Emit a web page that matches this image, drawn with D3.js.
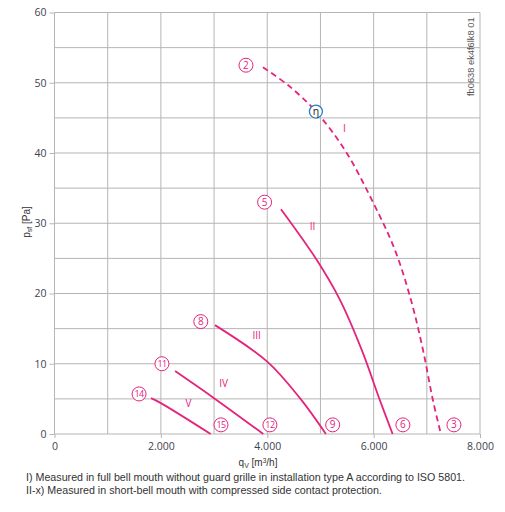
<!DOCTYPE html>
<html><head><meta charset="utf-8">
<script src="https://cdn.jsdelivr.net/npm/d3@7"></script>
<style>body{margin:0;background:#fff}svg{display:block}</style>
</head><body>
<svg id="c" width="505" height="512"></svg>
<script>
// ---- data ----
const xTicks = [0, 2000, 4000, 6000, 8000];
const xTickLabels = ["0", "2.000", "4.000", "6.000", "8.000"];
const yTicks = [0, 10, 20, 30, 40, 50, 60];
const curveNames = ["I", "II", "III", "IV", "V"];
const curveI_q = [3919, 4400, 4915, 5461, 5968, 6400, 6701, 6927, 7115, 7265];
const curveI_p = [52.2, 49.6, 45.9, 40.4, 33.3, 26.2, 19.1, 12.0, 4.8, 0];
const curveII_q = [4258, 4929, 5367, 5780, 6118, 6357];
const curveII_p = [32.0, 24.8, 19.1, 11.9, 4.8, 0];
const curveIII_q = [3017, 4000, 4614, 5103];
const curveIII_p = [15.5, 10.3, 5.1, 0];
const curveIV_q = [2267, 3000, 3925];
const curveIV_p = [8.96, 5.1, 0];
const curveV_q = [1814, 2000, 2936];
const curveV_p = [5.1, 4.4, 0];
// operating point labels: [number, q, p]
const startLabels = [["2", 3600, 52.5], ["5", 3950, 33.0], ["8", 2750, 16.0], ["11", 2020, 10.0], ["14", 1590, 5.7]];
const endLabels = [["15", 3130, 1.3], ["12", 4050, 1.3], ["9", 5230, 1.3], ["6", 6550, 1.3], ["3", 7510, 1.3]];
const etaPoint = [4915, 45.9];
const romanPos = [["I", 5450, 43.0], ["II", 4850, 29.0], ["III", 3800, 13.5], ["IV", 3180, 6.7], ["V", 2520, 3.8]];

const svg = d3.select("#c");
const x = d3.scaleLinear().domain([0, 8000]).range([54.5, 480]);
const y = d3.scaleLinear().domain([0, 60]).range([434, 12.5]);
const pink = "#e4237d";
const grid = "#b5b5b5";
const fontT = "'Open Sans', 'DejaVu Sans', sans-serif";

// grid
const g = svg.append("g");
g.selectAll(".vx").data(d3.range(0, 8001, 1000)).join("line")
  .attr("x1", d => x(d)).attr("x2", d => x(d)).attr("y1", y(0)).attr("y2", y(60))
  .attr("stroke", grid).attr("stroke-width", 1);
g.selectAll(".hy").data(d3.range(0, 61, 5)).join("line")
  .attr("x1", x(0)).attr("x2", x(8000)).attr("y1", d => y(d)).attr("y2", d => y(d))
  .attr("stroke", grid).attr("stroke-width", 1);

// axes
const xAxis = d3.axisBottom(x).tickValues(xTicks).tickFormat((d, i) => xTickLabels[i]).tickSize(4).tickPadding(5);
const yAxis = d3.axisLeft(y).tickValues(yTicks).tickSize(5).tickPadding(3);
const gx = svg.append("g").attr("transform", `translate(0,${y(0)})`).call(xAxis);
const gy = svg.append("g").attr("transform", `translate(${x(0)},0)`).call(yAxis);
[gx, gy].forEach(a => {
  a.select(".domain").remove();
  a.selectAll(".tick line").attr("stroke", grid);
  a.selectAll("text").attr("fill", "#3d4450").attr("font-size", 10.5).attr("font-family", fontT);
});

// curves
const line = d3.line().x(d => x(d[0])).y(d => y(d[1])).curve(d3.curveCatmullRom.alpha(0.5));
const series = [
  [curveI_q, curveI_p, true], [curveII_q, curveII_p, false], [curveIII_q, curveIII_p, false],
  [curveIV_q, curveIV_p, false], [curveV_q, curveV_p, false]
];
series.forEach(([qs, ps, dashed]) => {
  svg.append("path").datum(qs.map((q, i) => [q, ps[i]]))
    .attr("d", line).attr("fill", "none").attr("stroke", pink).attr("stroke-width", 1.8)
    .attr("stroke-dasharray", dashed ? "6,4" : null);
});

// roman labels
svg.selectAll(".rom").data(romanPos).join("text")
  .attr("x", d => x(d[1])).attr("y", d => y(d[2])).attr("text-anchor", "middle")
  .attr("fill", pink).attr("font-size", 10).attr("font-family", fontT).text(d => d[0]);

// circled numbers
const allLabels = startLabels.concat(endLabels);
const cl = svg.selectAll(".cl").data(allLabels).join("g")
  .attr("transform", d => `translate(${x(d[1])},${y(d[2])})`);
cl.append("circle").attr("r", 7).attr("fill", "#fff").attr("stroke", pink).attr("stroke-width", 1);
cl.append("text").attr("text-anchor", "middle").attr("dy", "0.36em").attr("fill", pink)
  .attr("font-size", d => d[0].length > 1 ? 9 : 10).attr("font-family", fontT)
  .attr("letter-spacing", d => d[0].length > 1 ? -0.6 : 0).text(d => d[0]);

// eta point
const eg = svg.append("g").attr("transform", `translate(${x(etaPoint[0])},${y(etaPoint[1])})`);
eg.append("circle").attr("r", 6.5).attr("fill", "#fff").attr("stroke", "#2a7cc4").attr("stroke-width", 1.3);
eg.append("text").attr("text-anchor", "middle").attr("dy", "0.3em").attr("fill", "#222")
  .attr("font-size", 10.5).attr("font-family", fontT).text("η");

// axis titles
const yl = svg.append("text").attr("transform", `translate(30,222) rotate(-90)`)
  .attr("text-anchor", "middle").attr("fill", "#333").attr("font-size", 10).attr("font-family", "'Liberation Sans', Arial, sans-serif");
yl.append("tspan").text("p");
yl.append("tspan").attr("font-size", 7).attr("dy", 2).text("sf");
yl.append("tspan").attr("dy", -2).text(" [Pa]");

const xl = svg.append("text").attr("x", 258).attr("y", 466)
  .attr("text-anchor", "middle").attr("fill", "#333").attr("font-size", 10).attr("font-family", "'Liberation Sans', Arial, sans-serif");
xl.append("tspan").text("q");
xl.append("tspan").attr("font-size", 7).attr("dy", 2).text("V");
xl.append("tspan").attr("dy", -2).text(" [m");
xl.append("tspan").attr("font-size", 6.5).attr("dy", -3).text("3");
xl.append("tspan").attr("dy", 3).text("/h]");

// document id
svg.append("text").attr("transform", "translate(474,96) rotate(-90)")
  .attr("fill", "#555").attr("font-size", 9.3).attr("font-family", "'Liberation Sans', Arial, sans-serif")
  .text("fb0638 ek4f6lk8 01");

// footnotes
const notes = ["I) Measured in full bell mouth without guard grille in installation type A according to ISO 5801.",
  "II-x) Measured in short-bell mouth with compressed side contact protection."];
svg.selectAll(".note").data(notes).join("text")
  .attr("x", 26).attr("y", (d, i) => 481 + i * 13)
  .attr("fill", "#333").attr("font-size", 10.7).attr("font-family", "'Liberation Sans', Arial, sans-serif")
  .text(d => d);
</script>
</body></html>
